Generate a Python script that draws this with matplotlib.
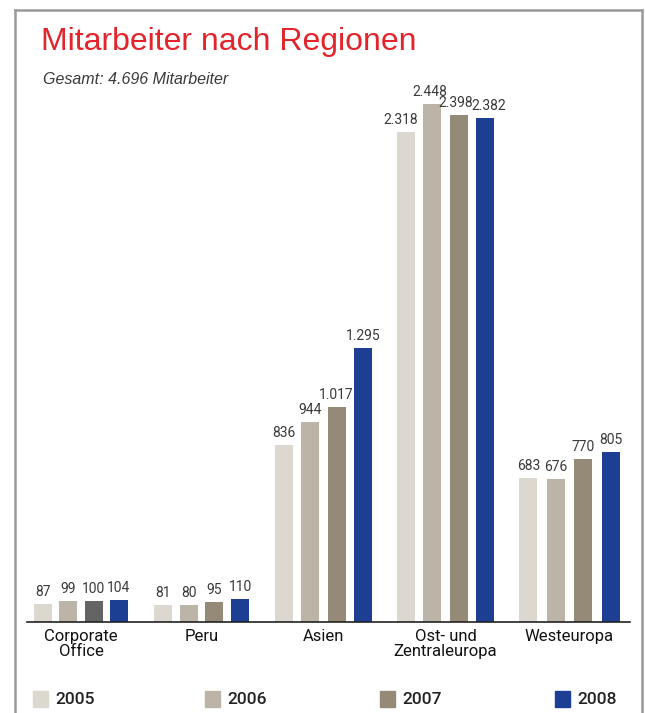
import matplotlib
matplotlib.use("Agg")
import matplotlib.pyplot as plt
from matplotlib.patches import Rectangle
from matplotlib.lines import Line2D

categories = ["Corporate\nOffice", "Peru", "Asien", "Ost- und\nZentraleuropa", "Westeuropa"]
years = ["2005", "2006", "2007", "2008"]
v2005 = [87, 81, 836, 2318, 683]
v2006 = [99, 80, 944, 2448, 676]
v2007 = [100, 95, 1017, 2398, 770]
v2008 = [104, 110, 1295, 2382, 805]
series = [v2005, v2006, v2007, v2008]
colors = ["#dcd8d0", "#bcb4a7", "#958a77", "#1c3f94"]
special_color = {(0, 2): "#646464"}  # Corporate Office 2007 bar drawn darker

title = "Mitarbeiter nach Regionen"
subtitle = "Gesamt: 4.696 Mitarbeiter"

NARROW = ["Roboto", "DejaVu Sans"]
SANS = ["Liberation Sans", "DejaVu Sans"]

W, H = 645, 713
fig = plt.figure(figsize=(W / 100, H / 100), dpi=100)
fig.patch.set_facecolor("white")

def fx(px):
    return px / W

def fy(py):
    return 1 - py / H

# frame
frame_col = "#9a9a9a"
fig.add_artist(Line2D([fx(15), fx(15)], [fy(10), fy(713)], color=frame_col, lw=1.8, transform=fig.transFigure))
fig.add_artist(Line2D([fx(15), fx(641.5)], [fy(10), fy(10)], color=frame_col, lw=1.8, transform=fig.transFigure))
fig.add_artist(Line2D([fx(641.5), fx(641.5)], [fy(10), fy(713)], color=frame_col, lw=1.8, transform=fig.transFigure))

fig.text(fx(41), fy(42), title, color="#e3242b", fontsize=23, family=SANS, va="center", ha="left")
fig.text(fx(43), fy(80), subtitle, color="#3a3a3a", fontsize=11.5, family=SANS, style="italic", va="center", ha="left")

ax_left, ax_right, ax_bottom, ax_top = 27, 630, 622, 80
ax = fig.add_axes([fx(ax_left), fy(ax_bottom), fx(ax_right - ax_left), (ax_bottom - ax_top) / H])
ax.set_facecolor("none")

group_px = [81, 201.5, 323.5, 445.5, 569.5]
spacing_px = [25.3, 25.7, 26.3, 26.3, 27.5]
bar_w_px = 18
scale = 0.2115  # px per employee
ax.set_xlim(ax_left, ax_right)
ax.set_ylim(0, (ax_bottom - ax_top) / scale)

label_shift = {(3, 0): -5, (3, 1): -3, (3, 2): -3, (3, 3): 4}  # small horizontal nudges (px)

for gi, cat in enumerate(categories):
    for si, vals in enumerate(series):
        x = group_px[gi] + (si - 1.5) * spacing_px[gi]
        col = special_color.get((gi, si), colors[si])
        ax.bar(x, vals[gi], width=bar_w_px, color=col, align="center")
        label = f"{vals[gi]:,}".replace(",", ".")
        ax.annotate(label, (x, vals[gi]), xytext=(label_shift.get((gi, si), 0) * 0.72, 3.5),
                    textcoords="offset points", ha="center", va="bottom",
                    fontsize=10, color="#3a3a3a", family=NARROW)

for s in ["top", "right", "left"]:
    ax.spines[s].set_visible(False)
ax.spines["bottom"].set_color("#222222")
ax.spines["bottom"].set_linewidth(1.2)
ax.set_yticks([])
ax.set_xticks(group_px)
ax.set_xticklabels(categories, fontsize=12, family=NARROW, color="#111111", linespacing=1.0)
ax.tick_params(axis="x", length=0, pad=5)

# legend
leg_x = [33, 205, 380, 555]
for i, yr in enumerate(years):
    fig.add_artist(Rectangle((fx(leg_x[i]), fy(707)), 15 / W, 16 / H, color=colors[i], transform=fig.transFigure))
    fig.text(fx(leg_x[i] + 22), fy(699), yr, fontsize=12.5, family=NARROW, color="#222222",
             va="center", ha="left", fontweight="medium")

fig.savefig("out.png", dpi=100, facecolor="white")
